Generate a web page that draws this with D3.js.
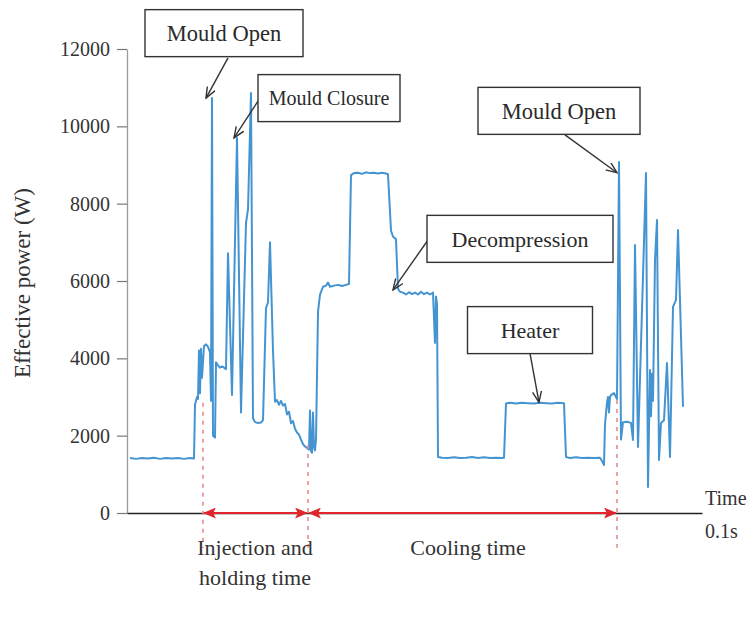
<!DOCTYPE html>
<html>
<head>
<meta charset="utf-8">
<script src="https://cdn.jsdelivr.net/npm/d3@7"></script>
<style>
  html, body { margin: 0; padding: 0; background: #fff; }
  svg { display: block; font-family: "Liberation Serif", "Times New Roman", serif; }
</style>
</head>
<body>
<svg id="chart" width="750" height="617"></svg>
<script>
// Sample time (units of 0.1 s) and effective power (W) over one moulding cycle
const time = [3, 9, 15, 21, 27, 33, 39, 45, 51, 57, 63, 67, 68, 70, 71, 72, 73, 74, 75, 77, 79, 81, 83, 84, 85, 86, 88, 89, 91, 93, 95, 97, 99, 101, 105, 110, 114, 119, 121, 124, 126, 128, 131, 134, 136, 139, 141, 143, 146, 148, 150, 152, 154, 156, 158, 160, 162, 164, 166, 168, 170, 172, 174, 176, 178, 180, 182, 183, 184, 185, 186, 187, 188, 189, 191, 193, 196, 199, 201, 203, 207, 211, 215, 219, 222, 224, 227, 231, 235, 239, 243, 247, 251, 255, 259, 261, 264, 266, 269, 271, 273, 276, 279, 282, 285, 288, 291, 294, 297, 300, 303, 306, 308, 309, 310, 311, 315, 321, 327, 333, 339, 345, 351, 357, 363, 369, 375, 377, 379, 383, 389, 395, 401, 407, 413, 419, 425, 431, 437, 439, 443, 449, 455, 461, 467, 473, 476, 477, 478, 480, 481, 482, 483, 484, 487, 489, 490, 492, 494, 496, 500, 504, 506, 508, 511, 519, 521, 523, 524, 525, 526, 528, 530, 532, 534, 537, 540, 543, 546, 549, 551, 556];
const power = [1420, 1400, 1420, 1410, 1430, 1400, 1420, 1410, 1420, 1400, 1420, 1410, 2800, 3000, 2950, 4200, 3100, 4250, 3500, 4320, 4360, 4300, 4150, 2900, 10730, 2000, 1950, 3900, 3820, 3760, 3790, 3760, 3720, 6720, 3050, 9700, 2600, 7500, 7850, 10860, 2450, 2350, 2330, 2340, 2400, 5300, 5450, 7000, 4200, 2880, 2920, 2800, 2900, 2780, 2820, 2550, 2620, 2320, 2380, 2180, 2080, 2030, 1900, 1780, 1720, 1680, 1640, 2650, 1600, 1560, 2600, 1700, 1620, 1900, 5200, 5650, 5850, 5880, 5960, 5850, 5880, 5900, 5870, 5900, 5920, 8740, 8790, 8800, 8770, 8810, 8790, 8800, 8780, 8800, 8780, 8760, 7300, 7150, 7080, 5800, 5720, 5700, 5650, 5710, 5660, 5700, 5650, 5720, 5660, 5700, 5650, 5700, 4400, 5600, 5400, 1450, 1430, 1420, 1440, 1420, 1430, 1450, 1420, 1440, 1420, 1430, 1420, 1430, 2830, 2850, 2830, 2850, 2840, 2830, 2850, 2840, 2830, 2850, 2840, 1450, 1420, 1440, 1420, 1430, 1420, 1430, 1300, 1240, 2300, 2850, 3000, 2600, 3000, 3050, 3100, 3000, 2950, 9080, 1900, 2350, 2360, 2330, 1890, 6930, 1710, 8790, 670, 3700, 2500, 3600, 2900, 6540, 7580, 1370, 2330, 2400, 3880, 1450, 5330, 5510, 7320, 2750];

const yTicks = [0, 2000, 4000, 6000, 8000, 10000, 12000];
const yTitle = "Effective power (W)";
const xUnit = ["Time", "0.1s"];

// Process phase boundaries (time) and the phase names between them
const phaseBounds = [76, 181, 490];
const phaseNames = [["Injection and", "holding time"], ["Cooling time"]];
const phaseNameAt = [128, 341];

// Event callouts: label, box centre [time, power], arrow start and tip [time, power]
const calloutLabels = ["Mould Open", "Mould Closure", "Decompression", "Heater", "Mould Open"];
const calloutBoxAt = [[97, 12410], [202, 10730], [393, 7090], [403, 4730], [432, 10400]];
const calloutFrom = [[101, 11770], [131, 10650], [301, 7060], [403, 4130], [438, 9780]];
const calloutTo = [[79, 10730], [107, 9700], [266, 5770], [412, 2860], [490, 8800]];

// ---- layout ----
const W = 750, H = 617;
const margin = { left: 127, top: 49, right: 48, bottom: 104 };
const boxW = [158, 142, 186, 125, 162];
const boxFont = [22.5, 20, 22, 22, 22.5];
const boxH = 47;

const svg = d3.select("#chart");

const x = d3.scaleLinear().domain([0, 575]).range([margin.left, W - margin.right]);
const y = d3.scaleLinear().domain([0, 12000]).range([H - margin.bottom, margin.top]);

const defs = svg.append("defs");
defs.append("marker")
  .attr("id", "callout-head")
  .attr("viewBox", "0 0 12 10")
  .attr("refX", 11).attr("refY", 5)
  .attr("markerWidth", 12).attr("markerHeight", 10)
  .attr("markerUnits", "userSpaceOnUse")
  .attr("orient", "auto")
  .append("path")
  .attr("d", "M0,0.5 L11,5 L0,9.5")
  .attr("fill", "none")
  .attr("stroke", "#333")
  .attr("stroke-width", 1.4);

defs.append("marker")
  .attr("id", "phase-head")
  .attr("viewBox", "0 0 12 10")
  .attr("refX", 11).attr("refY", 5)
  .attr("markerWidth", 13).attr("markerHeight", 11)
  .attr("markerUnits", "userSpaceOnUse")
  .attr("orient", "auto-start-reverse")
  .append("path")
  .attr("d", "M0,0 L12,5 L0,10 L2.5,5 Z")
  .attr("fill", "#e0262c");

// Y axis
const yAxis = svg.append("g")
  .attr("transform", `translate(${margin.left},0)`)
  .call(d3.axisLeft(y).tickValues(yTicks).tickSize(10).tickSizeOuter(0).tickPadding(7).tickFormat(d3.format("d")));
yAxis.select(".domain").attr("stroke", "#9a9a9a").attr("stroke-width", 1.3);
yAxis.selectAll(".tick line").attr("stroke", "#777").attr("stroke-width", 1.2);
yAxis.selectAll(".tick text")
  .attr("font-family", "Liberation Serif, serif")
  .attr("font-size", 20)
  .attr("fill", "#333");

svg.append("text")
  .attr("transform", `translate(30,${y(6000) + 2}) rotate(-90)`)
  .attr("text-anchor", "middle")
  .attr("font-size", 23)
  .attr("fill", "#333")
  .text(yTitle);

// X axis: plain baseline
const xAxis = svg.append("g")
  .attr("transform", `translate(0,${y(0)})`)
  .call(d3.axisBottom(x).tickValues([]).tickSizeOuter(0));
xAxis.select(".domain").attr("stroke", "#222").attr("stroke-width", 1.5);

svg.append("text")
  .attr("x", x(575) + 3).attr("y", y(0) - 8)
  .attr("font-size", 20).attr("fill", "#333")
  .text(xUnit[0]);
svg.append("text")
  .attr("x", x(575) + 3).attr("y", y(0) + 25)
  .attr("font-size", 20).attr("fill", "#333")
  .text(xUnit[1]);

// Power trace
const series = time.map((t, i) => [t, power[i]]);
svg.append("path")
  .datum(series)
  .attr("fill", "none")
  .attr("stroke", "#4494d2")
  .attr("stroke-width", 2)
  .attr("stroke-linejoin", "round")
  .attr("d", d3.line().x(d => x(d[0])).y(d => y(d[1])));

// Phase boundaries
const boundTop = [2850, 1760, 2920];
svg.append("g").selectAll("line")
  .data(phaseBounds)
  .join("line")
  .attr("x1", d => x(d)).attr("x2", d => x(d))
  .attr("y1", (d, i) => y(boundTop[i]))
  .attr("y2", y(-900))
  .attr("stroke", "#ec8a8a")
  .attr("stroke-width", 1.6)
  .attr("stroke-dasharray", "4,5");

// Phase duration arrows along the time axis
const spans = d3.pairs(phaseBounds);
svg.append("g").selectAll("line")
  .data(spans)
  .join("line")
  .attr("x1", d => x(d[0]) + 1).attr("x2", d => x(d[1]) - 1)
  .attr("y1", y(0)).attr("y2", y(0))
  .attr("stroke", "#e0262c")
  .attr("stroke-width", 2)
  .attr("marker-start", "url(#phase-head)")
  .attr("marker-end", "url(#phase-head)");

// Phase names
phaseNames.forEach((lines, i) => {
  const px = x(phaseNameAt[i]);
  const t = svg.append("text")
    .attr("x", px)
    .attr("y", y(0) + 42)
    .attr("text-anchor", "middle")
    .attr("font-size", 22)
    .attr("fill", "#333");
  lines.forEach((line, j) => {
    t.append("tspan").attr("x", px).attr("dy", j === 0 ? 0 : 30).text(line);
  });
});

// Callouts
calloutLabels.forEach((label, i) => {
  const [bt, bv] = calloutBoxAt[i];
  const cx = x(bt), cy = y(bv);
  const g = svg.append("g");
  g.append("line")
    .attr("x1", x(calloutFrom[i][0])).attr("y1", y(calloutFrom[i][1]))
    .attr("x2", x(calloutTo[i][0])).attr("y2", y(calloutTo[i][1]))
    .attr("stroke", "#333")
    .attr("stroke-width", 1.4)
    .attr("marker-end", "url(#callout-head)");
  g.append("rect")
    .attr("x", cx - boxW[i] / 2).attr("y", cy - boxH / 2)
    .attr("width", boxW[i]).attr("height", boxH)
    .attr("fill", "#fff")
    .attr("stroke", "#333")
    .attr("stroke-width", 1.4);
  g.append("text")
    .attr("x", cx).attr("y", cy)
    .attr("dy", "0.35em")
    .attr("text-anchor", "middle")
    .attr("font-size", boxFont[i])
    .attr("fill", "#2a2a2a")
    .text(label);
});
</script>
</body>
</html>
